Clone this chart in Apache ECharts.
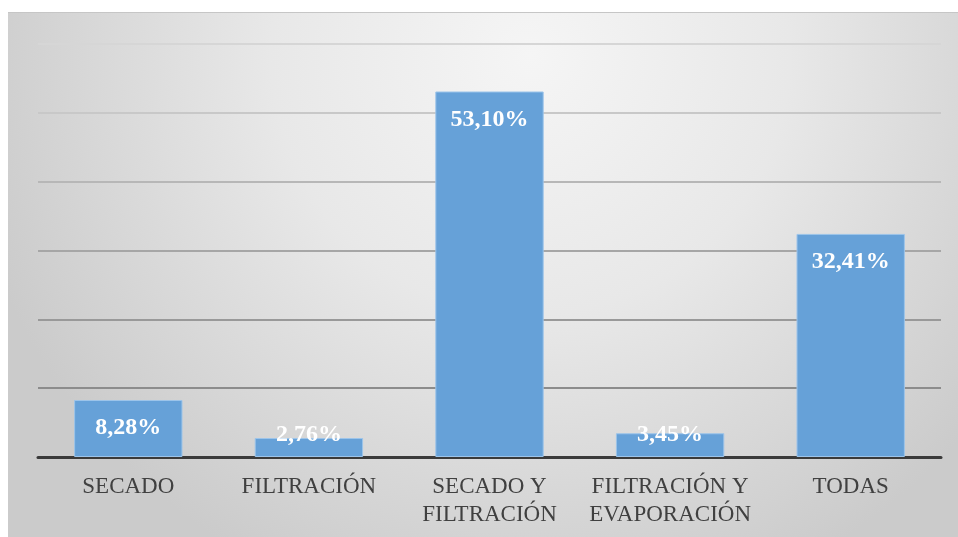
<!DOCTYPE html>
<html>
<head>
<meta charset="utf-8">
<script src="https://cdn.jsdelivr.net/npm/echarts@6/dist/echarts.min.js"></script>
<style>
  html, body { margin: 0; padding: 0; background: #ffffff; }
  #chart { position: absolute; left: 8px; top: 12px; width: 950px; height: 524px; border-top: 1px solid #c6c6c6; }
</style>
</head>
<body>
<div id="chart"></div>
<script>
// Share of samples per treatment (%)
const categories = ['SECADO', 'FILTRACIÓN', 'SECADO Y\nFILTRACIÓN', 'FILTRACIÓN Y\nEVAPORACIÓN', 'TODAS'];
const values = [8.28, 2.76, 53.10, 3.45, 32.41];

const serif = '"Liberation Serif", "Times New Roman", serif';

const chart = echarts.init(document.getElementById('chart'));

// Short bars get their label anchored near the base so the text stays readable
const barData = values.map(v => ({
  value: v,
  label: v < 5 ? { position: 'insideBottom', distance: 10 } : { position: 'insideTop', distance: 16 }
}));

chart.setOption({
  animation: false,
  backgroundColor: {
    type: 'radial', x: 0.55, y: 0.08, r: 1.1,
    colorStops: [
      { offset: 0, color: '#f5f5f5' },
      { offset: 0.45, color: '#e8e8e8' },
      { offset: 1, color: '#cbcbcb' }
    ]
  },
  grid: { left: 30, right: 17, top: 31, bottom: 80, containLabel: false },
  xAxis: {
    type: 'category',
    data: categories,
    axisTick: { show: false },
    axisLine: { lineStyle: { color: '#3a3a3a', width: 3 } },
    axisLabel: {
      color: '#404040', fontFamily: serif, fontSize: 23, lineHeight: 28,
      margin: 16, interval: 0
    }
  },
  yAxis: {
    type: 'value',
    min: 0, max: 60, interval: 10,
    axisLabel: { show: false },
    axisLine: { show: false },
    axisTick: { show: false },
    // gridlines fade towards the top, one colour per line from 0 upwards
    splitLine: {
      lineStyle: {
        color: ['#888888', '#8c8c8c', '#999999', '#a6a6a6', '#b7b7b7', '#c8c8c8', '#d6d6d6'],
        width: 2
      }
    }
  },
  series: [{
    type: 'bar',
    data: barData,
    barCategoryGap: '40%',
    itemStyle: { color: '#66a1d8', borderColor: '#9cc4ea', borderWidth: 1 },
    label: {
      show: true,
      color: '#ffffff',
      fontFamily: serif,
      fontWeight: 'bold',
      fontSize: 24,
      formatter: p => p.value.toFixed(2).replace('.', ',') + '%'
    }
  }]
});
</script>
</body>
</html>
